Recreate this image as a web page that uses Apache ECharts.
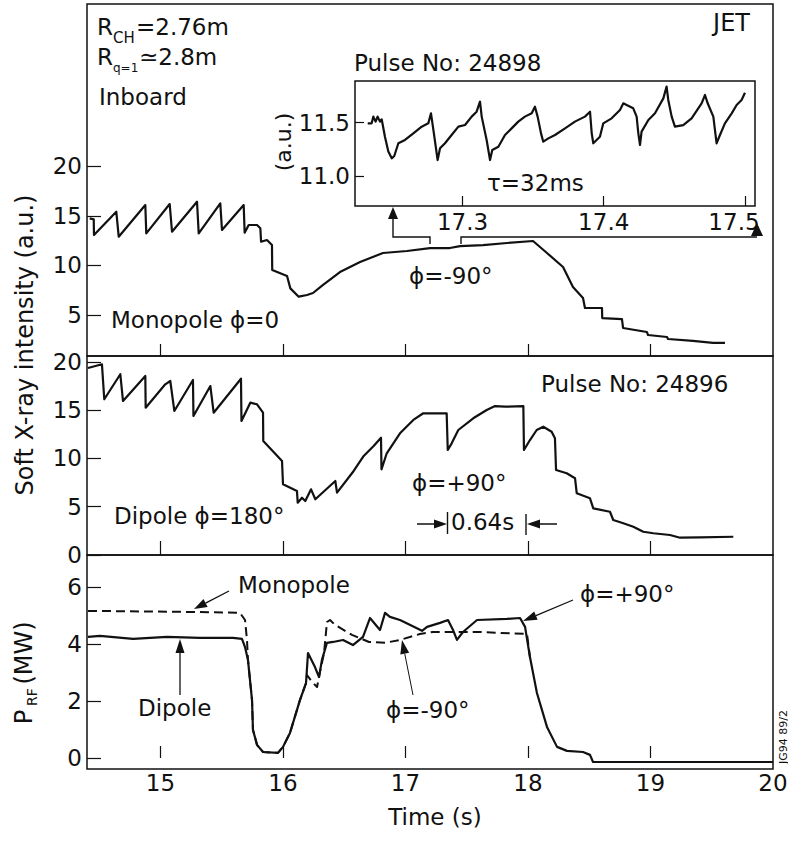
<!DOCTYPE html>
<html>
<head>
<meta charset="utf-8">
<script src="https://cdn.jsdelivr.net/npm/echarts@6/dist/echarts.min.js"></script>
<style>
html,body{margin:0;padding:0;background:#fff;}
#chart{width:788px;height:844px;}
</style>
</head>
<body>
<div id="chart"></div>
<script>
// ---------------- DATA (time in s) ----------------
// Top panel: soft X-ray, monopole phi=0 then phi=-90, pulse 24898
const monopoleSXR = [
 [14.422,14.74],[14.455,14.64],[14.457,13.06],[14.639,15.41],[14.659,12.89],[14.876,16.08],[14.884,13.23],
 [15.075,16.18],[15.094,13.39],[15.298,16.41],[15.312,13.23],[15.488,16.25],[15.502,13.57],[15.679,16.08],
 [15.687,13.29],[15.720,14.07],[15.788,14.07],[15.815,13.74],[15.821,12.39],[15.869,12.56],[15.910,12.05],
 [15.912,9.54],[16.033,8.93],[16.060,7.69],[16.128,6.85],[16.196,7.02],[16.245,7.22],[16.327,8.03],
 [16.465,9.33],[16.629,10.34],[16.816,11.25],[17.012,11.45],[17.200,11.75],[17.363,11.75],[17.445,11.95],
 [17.633,12.05],[17.829,12.26],[18.041,12.46],[18.155,11.25],[18.286,9.84],[18.367,7.82],[18.449,6.72],
 [18.465,5.71],[18.604,5.71],[18.606,4.70],[18.767,4.60],[18.776,3.70],[18.971,3.29],[18.980,2.99],
 [19.135,2.79],[19.143,2.59],[19.347,2.39],[19.510,2.19],[19.608,2.19]
];
// Inset: expanded monopole trace, 17.23-17.50 s
const insetSXR = [
 [17.2329,11.494],[17.2357,11.494],[17.2369,11.557],[17.2385,11.510],[17.2399,11.557],[17.2416,11.510],
 [17.2428,11.532],[17.2451,11.369],[17.2475,11.229],[17.2499,11.166],[17.2517,11.188],[17.2546,11.307],
 [17.2593,11.338],[17.2652,11.400],[17.2711,11.463],[17.2758,11.494],[17.2777,11.588],[17.2794,11.432],
 [17.2824,11.150],[17.2841,11.260],[17.2876,11.307],[17.2923,11.385],[17.2971,11.463],[17.3018,11.478],
 [17.3065,11.557],[17.3100,11.603],[17.3124,11.697],[17.3136,11.557],[17.3171,11.338],[17.3195,11.150],
 [17.3211,11.244],[17.3254,11.275],[17.3301,11.385],[17.3348,11.447],[17.3395,11.510],[17.3442,11.557],
 [17.3490,11.588],[17.3513,11.650],[17.3532,11.557],[17.3556,11.400],[17.3572,11.322],[17.3608,11.353],
 [17.3655,11.385],[17.3726,11.447],[17.3796,11.510],[17.3867,11.557],[17.3903,11.603],[17.3915,11.400],
 [17.3926,11.307],[17.3973,11.369],[17.3997,11.494],[17.4056,11.541],[17.4115,11.619],[17.4139,11.682],
 [17.4162,11.666],[17.4209,11.635],[17.4233,11.557],[17.4245,11.400],[17.4257,11.291],[17.4268,11.416],
 [17.4316,11.525],[17.4363,11.588],[17.4422,11.728],[17.4445,11.838],[17.4457,11.713],[17.4481,11.557],
 [17.4504,11.463],[17.4563,11.478],[17.4622,11.541],[17.4693,11.682],[17.4717,11.760],[17.4736,11.682],
 [17.4776,11.557],[17.4799,11.307],[17.4823,11.385],[17.4858,11.494],[17.4906,11.588],[17.4941,11.666],
 [17.4976,11.713],[17.5000,11.781]
];
// Middle panel: soft X-ray, dipole phi=180 then phi=+90, pulse 24896
const dipoleSXR = [
 [14.408,19.36],[14.522,19.74],[14.541,16.12],[14.672,18.71],[14.694,15.94],[14.876,18.53],[14.879,15.25],
 [15.039,17.67],[15.080,18.01],[15.113,14.91],[15.265,18.12],[15.269,14.39],[15.407,17.49],[15.434,14.73],
 [15.657,18.25],[15.661,13.87],[15.733,15.77],[15.788,15.60],[15.837,14.73],[15.839,11.80],[15.992,9.73],
 [16.000,7.32],[16.114,6.63],[16.120,5.41],[16.155,5.93],[16.182,5.59],[16.229,6.80],[16.264,5.77],
 [16.427,7.66],[16.441,6.45],[16.577,8.70],[16.659,10.25],[16.740,11.28],[16.800,12.14],[16.804,8.87],
 [16.847,10.53],[16.955,12.60],[17.064,13.98],[17.145,14.67],[17.336,14.67],[17.345,10.87],[17.377,11.56],
 [17.431,12.94],[17.553,14.15],[17.663,15.01],[17.731,15.42],[17.812,15.35],[17.962,15.42],[17.967,10.87],
 [18.016,11.90],[18.071,12.94],[18.125,13.28],[18.193,12.76],[18.220,12.08],[18.229,8.80],[18.316,8.46],
 [18.384,7.94],[18.398,6.39],[18.506,5.87],[18.533,4.83],[18.669,4.48],[18.696,3.62],[18.778,3.28],
 [18.860,2.93],[18.941,2.41],[19.023,2.25],[19.159,2.07],[19.241,1.79],[19.404,1.83],[19.676,1.89]
];
// Bottom panel: RF power (MW)
const dipolePRF = [
 [14.408,4.25],[14.506,4.28],[14.776,4.18],[15.053,4.25],[15.322,4.21],[15.592,4.21],[15.665,4.18],
 [15.690,3.89],[15.714,3.44],[15.747,2.04],[15.755,0.98],[15.788,0.46],[15.837,0.21],[15.959,0.18],
 [16.000,0.39],[16.057,0.88],[16.139,2.04],[16.188,2.63],[16.204,3.68],[16.261,3.19],[16.294,2.84],
 [16.318,3.44],[16.359,4.04],[16.408,4.07],[16.490,4.14],[16.571,3.96],[16.653,4.25],[16.710,4.91],
 [16.792,4.49],[16.833,5.09],[16.873,4.95],[16.955,4.84],[17.135,4.46],[17.176,4.60],[17.282,4.74],
 [17.347,4.84],[17.388,4.49],[17.420,4.14],[17.469,4.42],[17.584,4.84],[17.829,4.88],[17.935,4.91],
 [17.976,4.60],[18.016,3.54],[18.073,2.28],[18.155,1.09],[18.237,0.39],[18.318,0.25],[18.449,0.21],
 [18.506,0.11],[18.531,-0.14],[18.694,-0.14],[20.000,-0.14]
];
const monopolePRF = [
 [14.408,5.16],[15.322,5.12],[15.649,5.09],[15.690,4.84],[15.706,4.14],[15.714,3.44],[15.747,2.04],
 [15.755,0.98],[15.788,0.46],[15.837,0.21],[15.959,0.18],[16.000,0.39],[16.057,0.88],[16.139,2.04],
 [16.188,2.63],[16.196,2.91],[16.237,2.67],[16.278,2.49],[16.302,3.02],[16.335,3.68],[16.359,4.77],
 [16.384,4.84],[16.424,4.67],[16.563,4.32],[16.702,4.07],[16.833,4.04],[16.955,4.14],[17.118,4.35],
 [17.224,4.42],[17.420,4.42],[17.608,4.42],[17.747,4.39],[17.992,4.35],[18.016,3.54]
];
// Tick values
const timeTicks = [15,16,17,18,19,20];
const timeInnerTicks = [15,16,17,18,19];
const sxrTopTicks = [5,10,15,20];
const sxrMidTicks = [0,5,10,15,20];
const prfTicks = [0,2,4,6];
const insetTimeTicks = [17.3,17.4,17.5];
const insetValueTicks = [11.0,11.5];

// ---------------- CHART ----------------
const FONT = '"DejaVu Sans", sans-serif';
const INK = '#111';
const chart = echarts.init(document.getElementById('chart'), null, {renderer:'svg'});

function gridBox(left, top, width, height, bg) {
  return {left, top, width, height, show:true, borderColor:INK, borderWidth:1.5,
          backgroundColor: bg || 'transparent', containLabel:false, outerBoundsMode:'none'};
}
function fmtTime(v) {
  return Math.abs(v - Math.round(v)) < 1e-9 ? String(Math.round(v)) : v.toFixed(1);
}
function xAx(gridIndex, min, max, ticks, labels, tickLen, labelMargin, formatter, rich) {
  return {type:'value', gridIndex, min, max,
    axisLine:{show:false}, splitLine:{show:false},
    axisTick:{show:true, inside:true, length:tickLen, customValues:ticks, lineStyle:{color:INK, width:1.2}},
    axisLabel: labels ? {show:true, customValues:labels, fontSize:23, fontFamily:FONT, color:INK, margin:labelMargin,
      formatter: formatter || fmtTime, rich: rich || {}} : {show:false}};
}
function yAx(gridIndex, min, max, ticks, tickLen, fmt) {
  return {type:'value', gridIndex, min, max,
    axisLine:{show:false}, splitLine:{show:false},
    axisTick:{show:true, inside:true, length:tickLen, customValues:ticks, lineStyle:{color:INK, width:1.2}},
    axisLabel:{show:true, customValues:ticks, fontSize:23, fontFamily:FONT, color:INK, margin:5,
      formatter: fmt || (v => String(v))}};
}
function lineSeries(data, xi, yi, width, dashed) {
  return {type:'line', data, xAxisIndex:xi, yAxisIndex:yi, symbol:'none', silent:true,
    lineStyle:{color:INK, width, type: dashed ? [9,5] : 'solid', join:'round'}, z: dashed ? 2 : 3};
}

// graphic annotations
const G = [];
function txt(text, x, y, size, align, rot) {
  G.push({type:'text', x, y, rotation: rot || 0, z:100,
    style:{text, font: size + 'px ' + FONT, fill:INK,
      textAlign: align || 'left', align: align || 'left',
      textVerticalAlign:'middle', verticalAlign:'middle'}});
}
function seg(x1,y1,x2,y2,lw) {
  G.push({type:'line', z:100, shape:{x1,y1,x2,y2}, style:{stroke:INK, lineWidth:lw||1.4}});
}
function head(tx,ty,bx,by,hw) {
  const dx=tx-bx, dy=ty-by, d=Math.hypot(dx,dy), px=-dy/d*hw, py=dx/d*hw;
  G.push({type:'polygon', z:100, shape:{points:[[tx,ty],[bx+px,by+py],[bx-px,by-py]]}, style:{fill:INK}});
}
function arrow(x1,y1,x2,y2,len,hw,lw) {
  const dx=x2-x1, dy=y2-y1, d=Math.hypot(dx,dy), ux=dx/d, uy=dy/d;
  const bx=x2-ux*len, by=y2-uy*len;
  seg(x1,y1,bx,by,lw);
  head(x2,y2,bx,by,hw);
}

// top panel texts
txt('R', 97, 27, 23);
txt('CH', 113, 38, 15);
txt('=2.76m', 136, 27, 23);
txt('R', 97, 57, 23);
txt('q=1', 113, 68, 12);
txt('\u22432.8m', 139, 57, 23);
txt('Inboard', 99, 97, 23);
txt('JET', 750, 23, 24, 'right');
txt('Monopole \u03d5=0', 111, 320, 23);
txt('\u03d5=-90\u00b0', 409, 276, 23);
// inset texts
txt('Pulse No: 24898', 354, 63, 23);
txt('(a.u.)', 283, 142, 22, 'center', Math.PI/2);
txt('\u03c4=32ms', 487, 183, 23);
// inset bracket
G.push({type:'polyline', z:100, shape:{points:[[393,217],[393,237],[430,237],[430,244]]}, style:{stroke:INK, lineWidth:1.4, fill:null}});
head(393,207,393,219,5);
G.push({type:'polyline', z:100, shape:{points:[[461,244],[461,237],[757,237]]}, style:{stroke:INK, lineWidth:1.4, fill:null}});
head(757,223,757,236,6);
// middle panel texts
txt('Pulse No: 24896', 541, 384, 23);
txt('Dipole \u03d5=180\u00b0', 114, 516, 23);
txt('\u03d5=+90\u00b0', 412, 483, 23);
txt('0.64s', 451, 522, 23);
arrow(417,524,447,524,13,4.5,1.5);
arrow(557,524,527,524,13,4.5,1.5);
seg(447.5,512,447.5,534,1.4);
seg(526,514,526,535,1.4);
// bottom panel texts
txt('Monopole', 238, 585, 23);
arrow(229,591,194,609,13,4.5,1.3);
txt('Dipole', 138, 708, 23);
arrow(180,695,180,639,14,4.5,1.3);
txt('\u03d5=+90\u00b0', 580, 594, 23);
arrow(573,600,523,621,14,4.5,1.3);
txt('\u03d5=-90\u00b0', 386, 710, 23);
arrow(413,695,402,640,14,4.5,1.0);
// axis titles
txt('Soft X-ray intensity (a.u.)', 25, 345, 24, 'center', Math.PI/2);
txt('P', 24, 717, 24, 'center', Math.PI/2);
txt('RF', 32, 697, 14, 'center', Math.PI/2);
txt('(MW)', 24, 653, 24, 'center', Math.PI/2);
txt('Time (s)', 435, 817, 23, 'center');
txt('JG94 89/2', 783, 737, 11, 'center', Math.PI/2);

const insetLabelFmt = v => (v >= 17.45 ? '{end|' + v.toFixed(1) + '}' : v.toFixed(1));
const insetLabelRich = {end:{fontSize:23, fontFamily:FONT, color:INK, padding:[0,22,0,0]}};

const option = {
  animation:false,
  backgroundColor:'#fff',
  grid:[
    gridBox(87, 4, 686, 352),
    gridBox(87, 356, 686, 199),
    gridBox(87, 555, 686, 214),
    gridBox(355, 81, 400, 125, '#fff')
  ],
  xAxis:[
    xAx(0, 14.4, 20, timeInnerTicks, null, 12, 0),
    xAx(1, 14.4, 20, timeInnerTicks, null, 14, 0),
    xAx(2, 14.4, 20, timeInnerTicks, timeTicks, 12, 2),
    xAx(3, 17.2239, 17.5071, insetTimeTicks, insetTimeTicks, 10, 4, insetLabelFmt, insetLabelRich)
  ],
  yAxis:[
    yAx(0, 0.876, 36.33, sxrTopTicks, 14),
    yAx(1, 0, 20.6, sxrMidTicks, 14),
    yAx(2, -0.386, 7.12, prfTicks, 14),
    yAx(3, 10.719, 11.891, insetValueTicks, 9, v => v.toFixed(1))
  ],
  series:[
    lineSeries(monopoleSXR, 0, 0, 2.2),
    lineSeries(dipoleSXR, 1, 1, 2.2),
    lineSeries(monopolePRF, 2, 2, 2, true),
    lineSeries(dipolePRF, 2, 2, 2.2),
    lineSeries(insetSXR, 3, 3, 2.2)
  ],
  graphic: G
};
chart.setOption(option);
</script>
</body>
</html>
